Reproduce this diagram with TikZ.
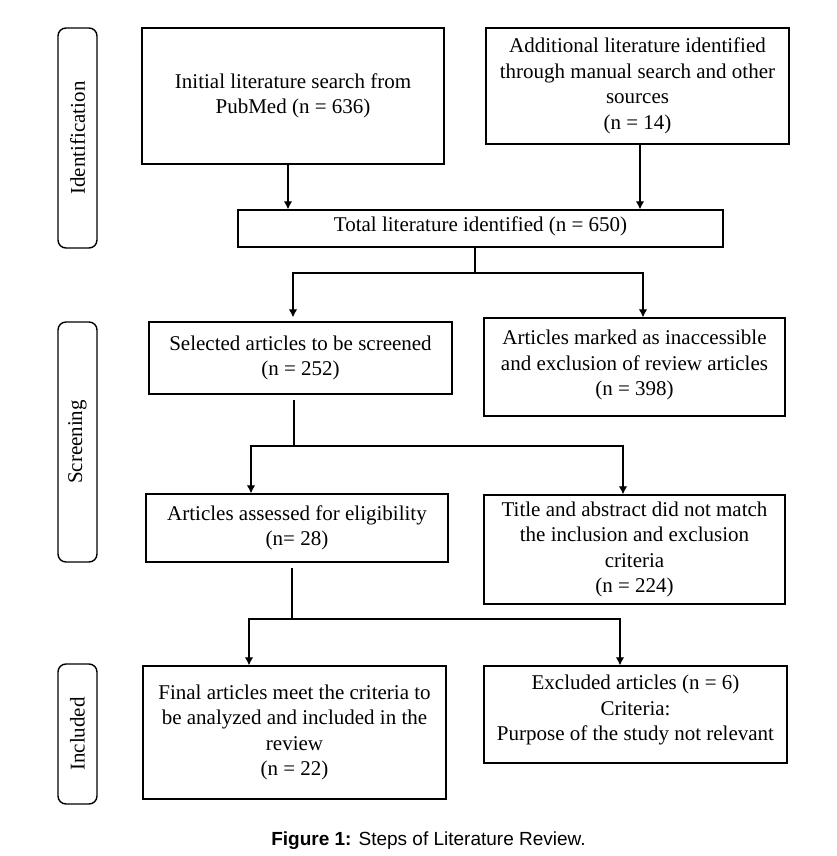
\documentclass[tikz,border=0pt]{standalone}
\usepackage{fontspec}
\setmainfont{Liberation Serif}
\newfontfamily\capfont{Liberation Sans}
\usetikzlibrary{arrows.meta}
\begin{document}
\begin{tikzpicture}[x=1pt,y=-1pt,
  box/.style={draw, line width=1.4pt, align=center, inner sep=0pt,
    font=\fontsize{21}{25.5}\selectfont},
  phase/.style={draw, line width=1.4pt, rounded corners=8pt, inner sep=0pt,
    minimum width=39pt, rotate=90, font=\fontsize{21}{25}\selectfont},
  conn/.style={line width=1.2pt},
  arr/.style={conn, -{Latex[length=8pt,width=8.5pt]}}]
\useasboundingbox[fill=white] (0,0) rectangle (837,856);

% phase labels
\node[phase, minimum height=39pt, minimum width=220pt] (idl) at (77.5,138) {Identification};
\node[phase, minimum height=39pt, minimum width=240pt] (scr) at (77.5,442) {Screening};
\node[phase, minimum height=39pt, minimum width=140pt] (inc) at (77.5,734) {Included};

% boxes
\node[box, minimum width=302pt, minimum height=136pt] (ini) at (293,96)
  {Initial literature search from\\PubMed (n = 636)};
\node[box, minimum width=303pt, minimum height=116pt] (add) at (637.5,86)
  {Additional literature identified\\through manual search and other\\sources\\(n = 14)};
\node[box, minimum width=485pt, minimum height=37pt, text depth=8pt] (tot) at (480.5,228.5)
  {Total literature identified (n = 650)};
\node[box, minimum width=303pt, minimum height=72pt] (sel) at (300.5,358)
  {Selected articles to be screened\\(n = 252)};
\node[box, minimum width=301pt, minimum height=98pt, text depth=8pt] (ina) at (634.5,367)
  {Articles marked as inaccessible\\and exclusion of review articles\\(n = 398)};
\node[box, minimum width=302pt, minimum height=68pt] (ass) at (297,528)
  {Articles assessed for eligibility\\(n= 28)};
\node[box, minimum width=301pt, minimum height=109pt] (tit) at (634.5,549.5)
  {Title and abstract did not match\\the inclusion and exclusion\\criteria\\(n = 224)};
\node[box, minimum width=303pt, minimum height=133pt] (fin) at (294.5,732.5)
  {Final articles meet the criteria to\\be analyzed and included in the\\review\\(n = 22)};
\node[box, minimum width=303pt, minimum height=97pt, text depth=13pt] (exc) at (635.5,714.5)
  {Excluded articles (n = 6)\\Criteria:\\Purpose of the study not relevant};

% junctions
\coordinate (s1) at (475,273);
\coordinate (s2) at (294,446);
\coordinate (s3) at (292,619);

% connectors
\draw[arr] ([xshift=-5pt]ini.south) -- ([xshift=-5pt]ini.south |- tot.north);
\draw[arr] ([xshift=2.5pt]add.south) -- ([xshift=2.5pt]add.south |- tot.north);

\draw[conn] ([xshift=-5.5pt]tot.south) -- (s1);
\draw[arr, shorten >=4pt] (s1) -| ([xshift=-7.5pt]sel.north);
\draw[arr] (s1) -| ([xshift=8.5pt]ina.north);

\draw[conn, shorten <=5pt] ([xshift=-6.5pt]sel.south) -- (s2);
\draw[arr] (s2) -| ([xshift=-46pt]ass.north);
\draw[arr] (s2) -| ([xshift=-11.5pt]tit.north);

\draw[conn, shorten <=5pt] ([xshift=-5pt]ass.south) -- (s3);
\draw[arr] (s3) -| ([xshift=-45.5pt]fin.north);
\draw[arr] (s3) -| ([xshift=-15.5pt]exc.north);

% caption
\node[anchor=base, inner sep=0pt, font=\capfont\fontsize{19}{22}\selectfont] (cap) at (428.5,845)
  {\textbf{Figure 1:} Steps of Literature Review.};
\end{tikzpicture}
\end{document}
